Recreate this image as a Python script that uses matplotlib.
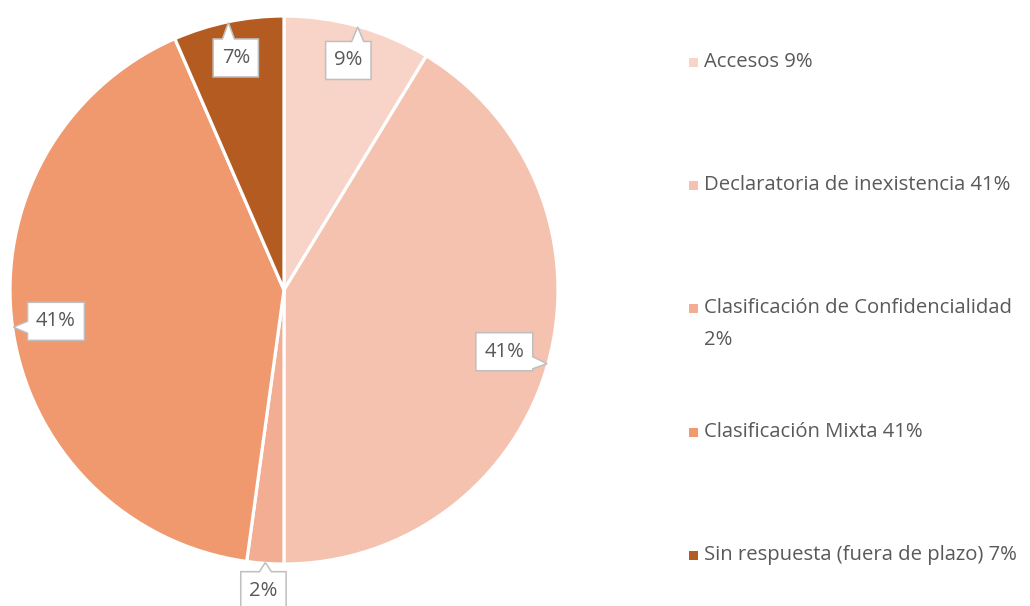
import matplotlib
matplotlib.use("Agg")
import matplotlib.pyplot as plt
from matplotlib.patches import Polygon, Rectangle
import numpy as np

plt.rcParams['font.family'] = ['Open Sans', 'DejaVu Sans']

# ---- data ----
categories = ["Accesos", "Declaratoria de inexistencia", "Clasificación de Confidencialidad",
              "Clasificación Mixta", "Sin respuesta (fuera de plazo)"]
counts = [4, 19, 1, 19, 3]
colors = ["#F8D4C8", "#F5C2B0", "#F2AD93", "#F0996E", "#B45B22"]
legend_wrap = [False, False, True, False, False]

# ---- layout/style ----
W, H = 1030, 606
label_r = [0.87, 0.835, 1.10, 0.84, 0.865]
text_color = "#595959"
fs = 14.6

fig = plt.figure(figsize=(W / 100, H / 100), dpi=100)
ax = fig.add_axes([0, 0, 1, 1])
center = (284, H - 290)
radius = 274
wedges, _ = ax.pie(counts, colors=colors, startangle=90, counterclock=False,
                   center=center, radius=radius,
                   wedgeprops=dict(edgecolor="white", linewidth=2.3))
ax.set_xlim(0, W)
ax.set_ylim(0, H)
ax.set_aspect("equal")
ax.axis("off")

total = sum(counts)
pct = [f"{round(100 * c / total)}%" for c in counts]

fig.canvas.draw()
renderer = fig.canvas.get_renderer()


def callout(cx, cy, hw, hh, tx, ty):
    dx, dy = tx - cx, ty - cy
    L, R, B, T = cx - hw, cx + hw, cy - hh, cy + hh
    bw = 6
    pts = [(L, T)]
    horiz = abs(dx) / hw > abs(dy) / hh
    px = np.clip(tx, L + bw + 2, R - bw - 2)
    py = np.clip(ty, B + bw + 2, T - bw - 2)
    if not horiz and dy > 0:
        pts += [(px - bw, T), (tx, ty), (px + bw, T)]
    pts.append((R, T))
    if horiz and dx > 0:
        pts += [(R, py + bw), (tx, ty), (R, py - bw)]
    pts.append((R, B))
    if not horiz and dy < 0:
        pts += [(px + bw, B), (tx, ty), (px - bw, B)]
    pts.append((L, B))
    if horiz and dx < 0:
        pts += [(L, py - bw), (tx, ty), (L, py + bw)]
    return Polygon(pts, closed=True, facecolor="white", edgecolor="#BFBFBF",
                   linewidth=1.1, zorder=5, joinstyle="miter")


for w, lab, rf in zip(wedges, pct, label_r):
    mid = np.deg2rad((w.theta1 + w.theta2) / 2)
    cx = w.center[0] + rf * w.r * np.cos(mid)
    cy = w.center[1] + rf * w.r * np.sin(mid)
    tx = w.center[0] + 0.997 * w.r * np.cos(mid)
    ty = w.center[1] + 0.997 * w.r * np.sin(mid)
    t = ax.text(cx, cy, lab, ha="center", va="center", fontsize=fs,
                color=text_color, zorder=6)
    bb = t.get_window_extent(renderer)
    hw = bb.width / 2 + 8.5
    hh = 19
    ax.add_patch(callout(cx, cy, hw, hh, tx, ty))

# ---- legend (manual, Excel style) ----
leg_y = [62, 185, 308, 432, 555]
for name, p, col, wrap, y in zip(categories, pct, colors, legend_wrap, leg_y):
    yy = H - y
    ax.add_patch(Rectangle((689, yy - 4.5), 9, 9, facecolor=col, edgecolor="none", zorder=5))
    if wrap:
        ax.text(704, yy, name, ha="left", va="center", fontsize=fs, color=text_color)
        ax.text(704, yy - 32, p, ha="left", va="center", fontsize=fs, color=text_color)
    else:
        ax.text(704, yy, f"{name} {p}", ha="left", va="center", fontsize=fs, color=text_color)

fig.savefig("out.png", dpi=100)
